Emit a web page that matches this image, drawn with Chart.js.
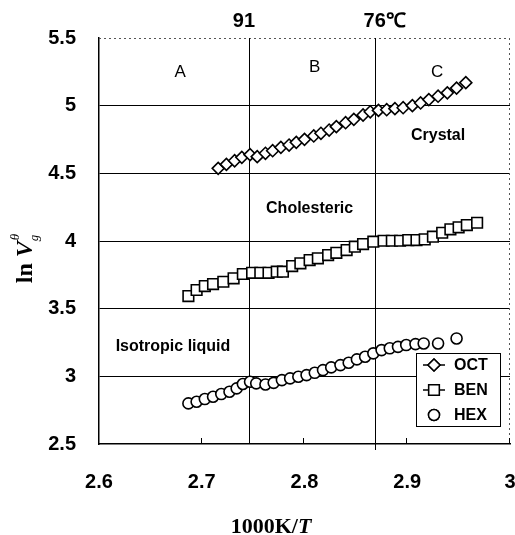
<!DOCTYPE html>
<html>
<head>
<meta charset="utf-8">
<script src="https://cdn.jsdelivr.net/npm/chart.js@4/dist/chart.umd.min.js"></script>
<style>
  html, body { margin: 0; padding: 0; background: #fff; }
</style>
</head>
<body>
<canvas id="myChart" width="515" height="535"></canvas>
<script>
// OCT (diamonds)
const octX = [2.716, 2.724, 2.732, 2.739, 2.747, 2.754, 2.762, 2.769, 2.777, 2.785, 2.792,
  2.800, 2.809, 2.816, 2.824, 2.831, 2.840, 2.848, 2.857, 2.864, 2.872, 2.880, 2.888,
  2.896, 2.905, 2.913, 2.921, 2.930, 2.939, 2.948, 2.957];
const octY = [4.537, 4.566, 4.593, 4.618, 4.638, 4.623, 4.648, 4.667, 4.692, 4.709, 4.729,
  4.751, 4.776, 4.796, 4.820, 4.845, 4.874, 4.899, 4.931, 4.955, 4.965, 4.970, 4.978,
  4.985, 5.000, 5.020, 5.045, 5.070, 5.095, 5.130, 5.170];

// BEN (squares)
const benX = [2.687, 2.695, 2.703, 2.711, 2.721, 2.731, 2.740, 2.749, 2.757, 2.765, 2.773,
  2.779, 2.788, 2.796, 2.805, 2.813, 2.823, 2.831, 2.841, 2.849, 2.857, 2.867, 2.877,
  2.885, 2.893, 2.901, 2.909, 2.917, 2.925, 2.934, 2.942, 2.950, 2.958, 2.968];
const benY = [3.593, 3.638, 3.667, 3.682, 3.699, 3.724, 3.756, 3.765, 3.765, 3.765, 3.773,
  3.773, 3.815, 3.835, 3.859, 3.872, 3.896, 3.913, 3.933, 3.958, 3.977, 3.995, 4.002,
  4.002, 4.002, 4.007, 4.007, 4.012, 4.032, 4.061, 4.086, 4.101, 4.118, 4.135];

// HEX (circles)
const hexX = [2.687, 2.695, 2.703, 2.711, 2.719, 2.727, 2.734, 2.740, 2.747, 2.753, 2.762,
  2.770, 2.778, 2.786, 2.794, 2.802, 2.810, 2.818, 2.826, 2.835, 2.843, 2.851, 2.859,
  2.867, 2.875, 2.883, 2.891, 2.899, 2.908, 2.916, 2.930, 2.948];
const hexY = [2.800, 2.812, 2.832, 2.849, 2.869, 2.886, 2.911, 2.943, 2.960, 2.948, 2.940,
  2.952, 2.972, 2.985, 2.997, 3.009, 3.026, 3.046, 3.066, 3.083, 3.100, 3.125, 3.145,
  3.170, 3.194, 3.207, 3.218, 3.231, 3.238, 3.243, 3.243, 3.280];

const xTicks = [2.6, 2.7, 2.8, 2.9, 3.0];
const yTicks = [2.5, 3, 3.5, 4, 4.5, 5, 5.5];

// phase transitions (91 and 76 degC)
const transX = [2.746, 2.869];
const transLabels = ["91", "76\u2103"];
const transLabelX = [2.741, 2.878];

const regionLabels = ["A", "B", "C"];
const regionX = [2.679, 2.810, 2.929];
const regionY = [5.25, 5.28, 5.25];

const phaseLabels = ["Crystal", "Cholesteric", "Isotropic liquid"];
const phaseX = [2.930, 2.805, 2.672];
const phaseY = [4.78, 4.24, 3.22];

const toPts = (xs, ys) => xs.map((x, i) => ({ x: x, y: ys[i] }));

const SANS = "'Liberation Sans', Arial, sans-serif";
const SERIF = "'Liberation Serif', 'Times New Roman', serif";

const extras = {
  id: "extras",
  beforeDatasetsDraw(chart) {
    const ctx = chart.ctx;
    const a = chart.chartArea;
    const xs = chart.scales.x;
    ctx.save();
    // top and right borders, dotted
    ctx.strokeStyle = "#555";
    ctx.lineWidth = 1;
    ctx.setLineDash([2, 3]);
    ctx.beginPath();
    ctx.moveTo(a.left, a.top + 0.5);
    ctx.lineTo(a.right, a.top + 0.5);
    ctx.moveTo(a.right - 0.5, a.top);
    ctx.lineTo(a.right - 0.5, a.bottom);
    ctx.stroke();
    ctx.setLineDash([]);
    // phase lines
    ctx.strokeStyle = "#000";
    transX.forEach((v, i) => {
      const px = Math.round(xs.getPixelForValue(v)) + 0.5;
      ctx.beginPath();
      ctx.moveTo(px, a.top);
      ctx.lineTo(px, a.bottom + (i === 1 ? 6 : 0));
      ctx.stroke();
    });
    // small inner ticks on x axis
    xTicks.slice(1).forEach(v => {
      const px = Math.round(xs.getPixelForValue(v)) - 0.5;
      ctx.beginPath();
      ctx.moveTo(px, a.bottom);
      ctx.lineTo(px, a.bottom - 6);
      ctx.stroke();
    });
    ctx.restore();
  },
  afterDraw(chart) {
    const ctx = chart.ctx;
    const a = chart.chartArea;
    const xs = chart.scales.x;
    const ys = chart.scales.y;
    ctx.save();
    ctx.fillStyle = "#000";
    ctx.textAlign = "center";
    ctx.textBaseline = "middle";

    ctx.font = "bold 20px " + SANS;
    transLabels.forEach((t, i) => {
      ctx.fillText(t, xs.getPixelForValue(transLabelX[i]), a.top - 17);
    });

    ctx.font = "17px " + SANS;
    regionLabels.forEach((t, i) => {
      ctx.fillText(t, xs.getPixelForValue(regionX[i]), ys.getPixelForValue(regionY[i]));
    });

    ctx.font = "bold 16px " + SANS;
    phaseLabels.forEach((t, i) => {
      ctx.fillText(t, xs.getPixelForValue(phaseX[i]), ys.getPixelForValue(phaseY[i]));
    });

    // legend
    const lx = 416, ly = 353, lw = 84, lh = 73;
    ctx.fillStyle = "#fff";
    ctx.fillRect(lx, ly, lw, lh);
    ctx.strokeStyle = "#000";
    ctx.lineWidth = 1;
    ctx.strokeRect(lx + 0.5, ly + 0.5, lw, lh);
    chart.data.datasets.forEach((ds, i) => {
      const cy = ly + 12 + i * 25;
      const cx = lx + 18;
      ctx.strokeStyle = "#000";
      ctx.lineWidth = 1.5;
      if (ds.legendLine) {
        ctx.beginPath();
        ctx.moveTo(cx - 11, cy);
        ctx.lineTo(cx + 11, cy);
        ctx.stroke();
      }
      Chart.helpers.drawPoint(ctx, {
        pointStyle: ds.pointStyle,
        radius: ds.pointRadius,
        rotation: 0,
        borderWidth: 1.5
      }, cx, cy);
      ctx.fillStyle = "#fff";
      ctx.fill();
      ctx.stroke();
      ctx.fillStyle = "#000";
      ctx.font = "bold 16px " + SANS;
      ctx.textAlign = "left";
      ctx.fillText(ds.label, lx + 38, cy + 1);
    });

    // x axis title
    const part1 = "1000K/";
    ctx.font = "bold 22px " + SERIF;
    const w1 = ctx.measureText(part1).width;
    ctx.font = "bold italic 22px " + SERIF;
    const w2 = ctx.measureText("T").width;
    const sx = 271 - (w1 + w2) / 2;
    ctx.textAlign = "left";
    ctx.font = "bold 22px " + SERIF;
    ctx.fillText(part1, sx, 527);
    ctx.font = "bold italic 22px " + SERIF;
    ctx.fillText("T", sx + w1, 527);

    // y axis title: ln V_g^theta
    ctx.translate(26, 258);
    ctx.rotate(-Math.PI / 2);
    ctx.font = "bold 24px " + SERIF;
    const wl = ctx.measureText("ln ").width;
    ctx.font = "bold italic 24px " + SERIF;
    const wv = ctx.measureText("V").width;
    ctx.font = "italic 13px " + SERIF;
    const wg = ctx.measureText("g").width;
    const total = wl + wv + wg + 2;
    const px = -total / 2;
    ctx.font = "bold 24px " + SERIF;
    ctx.fillText("ln ", px, 0);
    ctx.font = "bold italic 24px " + SERIF;
    ctx.fillText("V", px + wl, 0);
    ctx.font = "italic 13px " + SERIF;
    ctx.fillText("g", px + wl + wv, 9);
    ctx.fillText("\u03b8", px + wl + wv + 1, -10);
    ctx.restore();
  }
};

const ctx = document.getElementById("myChart").getContext("2d");
const myChart = new Chart(ctx, {
  type: "scatter",
  data: {
    datasets: [
      {
        label: "OCT",
        data: toPts(octX, octY),
        pointStyle: "rectRot",
        pointRadius: 6,
        legendLine: true
      },
      {
        label: "BEN",
        data: toPts(benX, benY),
        pointStyle: "rect",
        pointRadius: 7.5,
        legendLine: true
      },
      {
        label: "HEX",
        data: toPts(hexX, hexY),
        pointStyle: "circle",
        pointRadius: 5.5,
        legendLine: false
      }
    ].map(ds => Object.assign(ds, {
      borderColor: "#000",
      backgroundColor: "#fff",
      pointBorderWidth: 1.6,
      pointBackgroundColor: "#fff",
      pointBorderColor: "#000",
      showLine: false,
      clip: false
    }))
  },
  options: {
    responsive: false,
    animation: false,
    devicePixelRatio: 1,
    layout: { autoPadding: false, padding: { top: 38, right: 5, left: 0, bottom: 0 } },
    plugins: {
      legend: { display: false },
      tooltip: { enabled: false }
    },
    scales: {
      x: {
        type: "linear",
        min: 2.6,
        max: 3.0,
        afterFit: s => { s.height = 91; s.paddingLeft = 0; s.paddingRight = 0; },
        afterBuildTicks: s => { s.ticks = xTicks.map(v => ({ value: v })); },
        grid: { display: false, drawTicks: false },
        border: { display: true, color: "#000", width: 1.5 },
        ticks: {
          padding: 26,
          maxRotation: 0,
          color: "#000",
          font: { family: SANS, size: 20, weight: "bold" },
          callback: v => (v === 3 ? "3" : v.toFixed(1))
        }
      },
      y: {
        type: "linear",
        min: 2.5,
        max: 5.5,
        afterFit: s => { s.width = 99; s.paddingTop = 0; s.paddingBottom = 0; },
        afterBuildTicks: s => { s.ticks = yTicks.map(v => ({ value: v })); },
        grid: {
          drawTicks: false,
          lineWidth: 1,
          color: c => (c.tick && (c.tick.value === 5.5 || c.tick.value === 2.5) ? "rgba(0,0,0,0)" : "#000")
        },
        border: { display: true, color: "#000", width: 1.5 },
        ticks: {
          padding: 23,
          color: "#000",
          font: { family: SANS, size: 20, weight: "bold" },
          callback: v => String(v)
        }
      }
    }
  },
  plugins: [extras]
});
</script>
</body>
</html>
